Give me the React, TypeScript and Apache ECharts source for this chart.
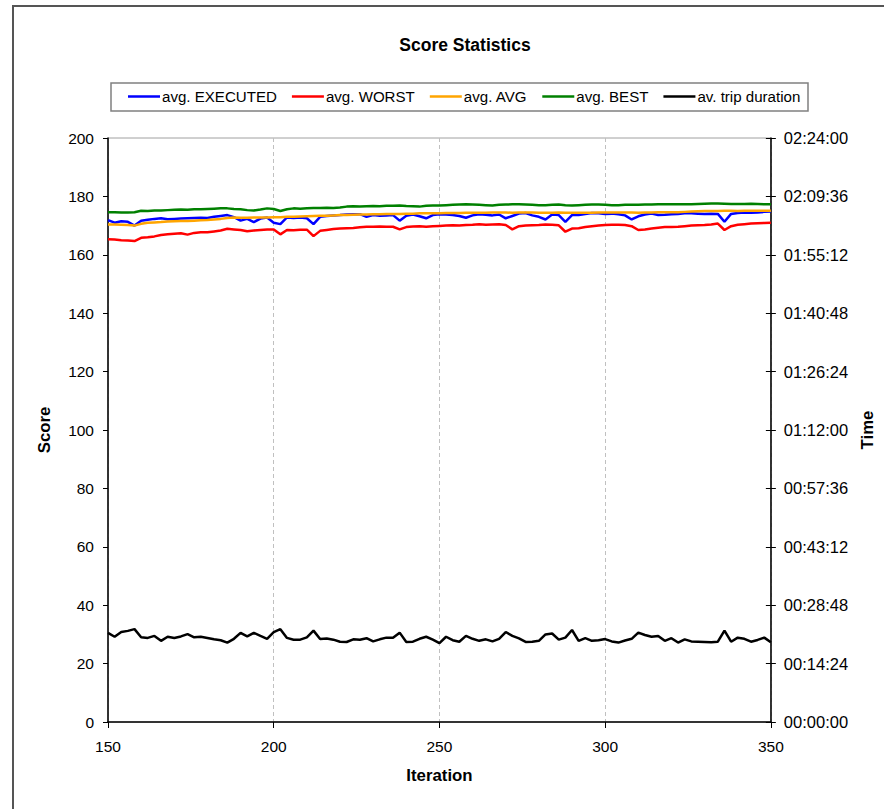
import React, { useEffect, useRef } from "react";
import * as echarts from "echarts";

// Iterations sampled every 2 steps, 150 .. 350
const iterations: number[] = Array.from({ length: 101 }, (_, i) => 150 + 2 * i);

const avgExecuted: number[] = [
  171.9, 171.0, 171.5, 171.3, 170.0, 171.7, 172.0, 172.3, 172.5, 172.2,
  172.3, 172.4, 172.5, 172.6, 172.7, 172.6, 173.0, 173.3, 173.6, 172.9,
  171.7, 172.3, 171.2, 172.4, 172.8, 171.0, 170.5, 172.8, 172.6, 172.8,
  172.5, 170.5, 173.0, 173.3, 173.5, 173.6, 173.8, 173.9, 173.9, 173.0,
  173.6, 173.4, 173.5, 173.6, 171.7, 173.4, 173.8, 173.2, 172.5, 173.6,
  173.9, 173.8, 173.6, 173.3, 172.7, 173.5, 173.9, 173.7, 173.5, 173.8,
  172.5, 173.3, 174.1, 174.3, 173.5, 173.0, 172.1, 173.8, 173.6, 171.3,
  173.6, 173.6, 174.0, 174.3, 174.2, 174.0, 174.1, 173.9, 173.5, 172.1,
  173.2, 173.8, 174.1, 173.6, 173.7, 173.9, 174.0, 174.2, 174.2, 174.1,
  174.0, 174.1, 174.0, 171.3, 174.0, 174.3, 174.5, 174.4, 174.5, 174.7,
  174.8,
];

const avgWorst: number[] = [
  165.3, 165.2, 165.0, 164.9, 164.7, 165.8, 166.0, 166.3, 166.8, 167.0,
  167.2, 167.4, 166.9, 167.5, 167.7, 167.7, 168.0, 168.3, 168.9, 168.7,
  168.5, 168.1, 168.3, 168.5, 168.7, 168.7, 167.0, 168.5, 168.4, 168.6,
  168.6, 166.4, 168.2, 168.5, 168.8, 169.0, 169.1, 169.2, 169.4, 169.6,
  169.6, 169.7, 169.6, 169.6, 168.7, 169.5, 169.7, 169.8, 169.6, 169.8,
  169.9, 170.0, 170.1, 170.0, 170.2, 170.3, 170.5, 170.3, 170.4, 170.5,
  170.2, 168.7, 169.8, 170.0, 170.1, 170.2, 170.4, 170.3, 170.1, 167.9,
  169.0, 169.1, 169.5, 169.8, 170.0, 170.2, 170.3, 170.3, 170.2, 169.8,
  168.5, 168.7, 169.0, 169.3, 169.5, 169.5, 169.6, 169.8, 170.0, 170.1,
  170.2, 170.4, 170.7, 168.5, 169.8, 170.3, 170.5, 170.7, 170.8, 170.9,
  171.0,
];

const avgAvg: number[] = [
  170.4, 170.4, 170.3, 170.2, 170.0, 170.6, 171.0, 171.1, 171.2, 171.4,
  171.5, 171.6, 171.6, 171.7, 171.8, 171.9, 172.1, 172.3, 172.6, 172.8,
  172.7, 172.7, 172.8, 172.8, 172.8, 172.9, 172.9, 173.0, 173.0, 173.1,
  173.2, 173.3, 173.4, 173.4, 173.5, 173.6, 173.6, 173.7, 173.8, 173.8,
  173.9, 173.9, 174.0, 174.0, 174.0, 174.1, 174.1, 174.2, 174.2, 174.2,
  174.2, 174.3, 174.3, 174.3, 174.4, 174.4, 174.4, 174.4, 174.5, 174.5,
  174.5, 174.4, 174.5, 174.5, 174.5, 174.4, 174.4, 174.4, 174.5, 174.4,
  174.4, 174.4, 174.4, 174.4, 174.5, 174.5, 174.5, 174.5, 174.5, 174.5,
  174.4, 174.5, 174.5, 174.6, 174.6, 174.6, 174.6, 174.7, 174.8, 174.9,
  175.0, 175.0, 175.0, 175.1, 175.1, 175.0, 175.1, 175.1, 175.1, 175.1,
  175.1,
];

const avgBest: number[] = [
  174.6, 174.6, 174.5, 174.5, 174.6, 175.1, 175.0, 175.2, 175.2, 175.3,
  175.4, 175.5, 175.4, 175.6, 175.6, 175.7, 175.8, 175.9, 175.9, 175.7,
  175.6, 175.3, 175.2, 175.5, 175.9, 175.7, 175.0, 175.6, 175.9, 175.8,
  175.9, 176.0, 176.0, 176.1, 176.0, 176.2, 176.5, 176.6, 176.5, 176.6,
  176.7, 176.6, 176.8, 176.8, 176.9, 176.7, 176.6, 176.5, 176.8, 176.9,
  176.9, 177.0, 177.1, 177.2, 177.3, 177.2, 177.1, 177.0, 176.9, 177.1,
  177.2, 177.3, 177.3, 177.2, 177.1, 177.0, 177.0, 177.1, 177.2, 177.0,
  176.9, 177.0, 177.1, 177.2, 177.2, 177.1, 177.0, 177.0, 177.1, 177.1,
  177.1, 177.2, 177.2, 177.3, 177.3, 177.3, 177.3, 177.3, 177.3, 177.4,
  177.5, 177.6, 177.6, 177.5, 177.4, 177.4, 177.4, 177.5, 177.4, 177.3,
  177.3,
];

// Average trip duration, in seconds
const tripDuration: number[] = [
  1318, 1261, 1331, 1348, 1374, 1253, 1244, 1274, 1201, 1261,
  1244, 1266, 1300, 1253, 1261, 1244, 1223, 1210, 1175, 1231,
  1318, 1266, 1318, 1274, 1231, 1331, 1374, 1244, 1218, 1218,
  1253, 1352, 1227, 1236, 1218, 1188, 1184, 1223, 1218, 1240,
  1192, 1223, 1248, 1248, 1322, 1184, 1188, 1231, 1261, 1218,
  1166, 1261, 1210, 1188, 1274, 1231, 1201, 1223, 1192, 1231,
  1331, 1274, 1236, 1184, 1188, 1201, 1296, 1309, 1218, 1248,
  1361, 1201, 1240, 1201, 1210, 1227, 1192, 1175, 1205, 1231,
  1322, 1287, 1261, 1274, 1201, 1240, 1175, 1223, 1192, 1188,
  1184, 1179, 1188, 1352, 1188, 1248, 1231, 1188, 1214, 1248,
  1179,
];

const seriesNames = ["avg. EXECUTED", "avg. WORST", "avg. AVG", "avg. BEST", "av. trip duration"];
const seriesColors = ["#0000ff", "#ff0000", "#ffa500", "#008000", "#000000"];

const FONT = "'Liberation Sans', Arial, sans-serif";

function fmtTime(sec: number): string {
  const s = Math.round(sec);
  const h = Math.floor(s / 3600);
  const m = Math.floor((s % 3600) / 60);
  const ss = s % 60;
  const p = (n: number) => (n < 10 ? "0" + n : "" + n);
  return p(h) + ":" + p(m) + ":" + p(ss);
}

export default function App() {
  const ref = useRef<HTMLDivElement>(null);
  useEffect(() => {
    if (!ref.current) return;
    const chart = echarts.init(ref.current, null, { renderer: "svg" });
    const values = [avgExecuted, avgWorst, avgAvg, avgBest, tripDuration];
    const series = values.map((vals, k) => ({
      name: seriesNames[k],
      type: "line",
      yAxisIndex: k === 4 ? 1 : 0,
      data: vals.map((v, i) => [iterations[i], v]),
      showSymbol: false,
      symbol: "none",
      lineStyle: { color: seriesColors[k], width: 2.5 },
      itemStyle: { color: seriesColors[k] },
      z: 3 + k,
    }));
    chart.setOption({
      animation: false,
      backgroundColor: "#ffffff",
      textStyle: { fontFamily: FONT },
      title: {
        text: "Score Statistics",
        left: 460,
        textAlign: "center",
        top: 31,
        textStyle: { fontFamily: FONT, fontSize: 17.5, fontWeight: "bold", color: "#000" },
      },
      graphic: [
        {
          type: "rect",
          shape: { x: 13, y: 6, width: 900, height: 900 },
          style: { fill: "none", stroke: "#555555", lineWidth: 2 },
          silent: true,
        },
        {
          type: "rect",
          shape: { x: 111, y: 83, width: 697, height: 28 },
          style: { fill: "none", stroke: "#808080", lineWidth: 1.5 },
          silent: true,
        },
      ],
      legend: {
        top: 89,
        left: 128,
        itemWidth: 32,
        itemHeight: 2.5,
        itemGap: 15,
        icon: "rect",
        padding: 0,
        textStyle: { fontFamily: FONT, fontSize: 15.1, color: "#000", padding: [0, 0, 0, -3] },
        data: seriesNames,
      },
      grid: {
        left: 108,
        right: 108,
        top: 138,
        bottom: 87,
        show: true,
        borderColor: "#a0a0a0",
        borderWidth: 1,
        backgroundColor: "transparent",
      },
      xAxis: {
        type: "value",
        min: 150,
        max: 350,
        interval: 50,
        name: "Iteration",
        nameLocation: "middle",
        nameGap: 45,
        nameTextStyle: { fontFamily: FONT, fontSize: 16.8, fontWeight: "bold", color: "#000" },
        axisLine: { show: true, lineStyle: { color: "#000", width: 1.5 } },
        axisTick: { show: true, length: 6, lineStyle: { color: "#000" } },
        axisLabel: { fontFamily: FONT, fontSize: 15.5, color: "#000", margin: 16 },
        splitLine: { show: true, lineStyle: { color: "#c0c0c0", type: [4, 3], width: 1 } },
      },
      yAxis: [
        {
          type: "value",
          min: 0,
          max: 200,
          interval: 20,
          position: "left",
          name: "Score",
          nameLocation: "middle",
          nameGap: 55,
          nameTextStyle: { fontFamily: FONT, fontSize: 16.8, fontWeight: "bold", color: "#000" },
          axisLine: { show: true, lineStyle: { color: "#000", width: 1.5 } },
          axisTick: { show: true, length: 5, lineStyle: { color: "#000" } },
          axisLabel: { fontFamily: FONT, fontSize: 15.5, color: "#000", margin: 14 },
          splitLine: { show: false },
        },
        {
          type: "value",
          min: 0,
          max: 8640,
          interval: 864,
          position: "right",
          name: "Time",
          nameLocation: "middle",
          nameGap: 84,
          nameTextStyle: { fontFamily: FONT, fontSize: 16.8, fontWeight: "bold", color: "#000" },
          axisLine: { show: true, lineStyle: { color: "#000", width: 1.5 } },
          axisTick: { show: true, length: 5, lineStyle: { color: "#000" } },
          axisLabel: { fontFamily: FONT, fontSize: 16.5, color: "#000", margin: 13, formatter: (v: number) => fmtTime(v) },
          splitLine: { show: false },
        },
        {
          type: "value",
          min: 0,
          max: 8640,
          interval: 864,
          position: "right",
          axisLine: { show: false },
          axisTick: { show: true, inside: true, length: 5, lineStyle: { color: "#000" } },
          axisLabel: { show: false },
          splitLine: { show: false },
        },
      ],
      series,
    });
    return () => chart.dispose();
  }, []);
  return (
    <div
      ref={ref}
      style={{ position: "fixed", left: 0, top: 0, width: 884, height: 809 }}
    />
  );
}
